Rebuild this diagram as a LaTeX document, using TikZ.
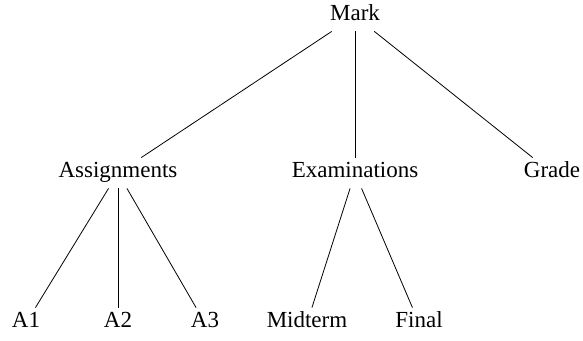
\documentclass[tikz,border=0pt]{standalone}
\usepackage{fontspec}
\setmainfont{Liberation Serif}
\usetikzlibrary{positioning}

\begin{document}
\begin{tikzpicture}[
  x=0.5pt,y=-0.5pt,
  every node/.style={font=\fontsize{11.5}{14}\selectfont},
  lbl/.style={anchor=base,inner xsep=2pt,inner ysep=2pt,text height=8pt,text depth=3pt},
  edge/.style={thin,black}
]
\useasboundingbox (0,0) rectangle (583,341);

\node[lbl] (mark) at (355,21) {Mark};

% second level
\node[lbl] (assign) at (118,178) {Assignments};
\node[lbl] (exam) at (355,178) {Examinations};
\node[lbl] (grade) at (552,178) {Grade};

% leaves
\node[lbl] (a1) at (26,328) {A1};
\node[lbl] (a2) at (118,328) {A2};
\node[lbl] (a3) at (205,328) {A3};
\node[lbl] (mid) at (307,328) {Midterm};
\node[lbl] (fin) at (419,328) {Final};

\draw[edge] (mark) -- (assign);
\draw[edge] (mark) -- (exam);
\draw[edge] (mark) -- (grade);
\draw[edge] (assign) -- (a1);
\draw[edge] (assign) -- (a2);
\draw[edge] (assign) -- (a3);
\draw[edge] (exam) -- (mid);
\draw[edge] (exam) -- (fin);
\end{tikzpicture}
\end{document}
